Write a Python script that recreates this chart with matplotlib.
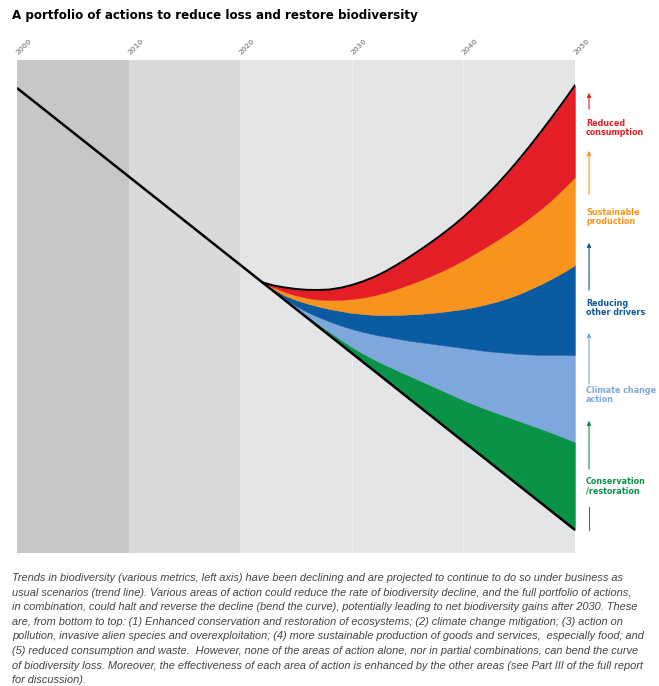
import matplotlib.pyplot as plt
from matplotlib.patches import FancyArrowPatch
from matplotlib.transforms import ScaledTranslation

W, H = 659, 686

years = list(range(2022, 2051))
trend_years = [2000] + years
trend = [94.32, 54.87, 53.08, 51.30, 49.49, 47.71, 45.90, 44.12, 42.33, 40.53, 38.74,
         36.96, 35.16, 33.37, 31.56, 29.78, 27.99, 26.19, 24.40, 22.60, 20.81,
         19.03, 17.22, 15.44, 13.63, 11.84, 10.06, 8.26, 6.47, 4.67]
conservation = [54.87, 53.12, 51.40, 49.70, 48.07, 46.45, 44.83, 43.31, 41.79, 40.47,
                39.25, 38.13, 37.12, 36.11, 35.09, 34.08, 33.06, 32.05, 31.03, 30.12,
                29.21, 28.40, 27.59, 26.77, 25.96, 25.15, 24.34, 23.43, 22.52]
climate = [54.87, 53.23, 51.62, 50.10, 48.88, 47.87, 46.96, 46.15, 45.44, 44.83,
           44.32, 43.91, 43.51, 43.10, 42.80, 42.49, 42.19, 41.89, 41.58, 41.28,
           40.97, 40.77, 40.57, 40.37, 40.26, 40.16, 40.16, 40.16, 40.16]
other_drivers = [54.87, 53.49, 52.23, 51.32, 50.61, 50.00, 49.49, 49.09, 48.68, 48.48,
                 48.28, 48.28, 48.28, 48.38, 48.48, 48.68, 48.88, 49.19, 49.49, 49.90,
                 50.41, 51.01, 51.72, 52.54, 53.55, 54.56, 55.78, 57.00, 58.42]
production = [54.87, 53.85, 52.94, 52.23, 51.72, 51.42, 51.32, 51.35, 51.50, 51.80,
              52.25, 52.85, 53.55, 54.35, 55.20, 56.10, 57.10, 58.20, 59.40, 60.70,
              62.05, 63.45, 64.90, 66.45, 68.10, 69.85, 71.80, 74.00, 76.27]
consumption = [54.87, 54.26, 53.85, 53.55, 53.38, 53.35, 53.45, 53.80, 54.35, 55.10,
               56.00, 57.10, 58.40, 59.80, 61.30, 62.85, 64.50, 66.25, 68.15, 70.20,
               72.40, 74.75, 77.25, 79.90, 82.70, 85.60, 88.60, 91.70, 94.90]

tick_years = [2000, 2010, 2020, 2030, 2040, 2050]
period_edges = [2000, 2010, 2020, 2050]
period_colors = ["#c5c7c9", "#d8dadc", "#e3e5e7"]

band_colors = ["#0a9346", "#7ea8dc", "#0b5ba3", "#f7941d", "#e41e26"]
band_labels = ["Conservation\n/restoration", "Climate change\naction", "Reducing\nother drivers",
               "Sustainable\nproduction", "Reduced\nconsumption"]

title = "A portfolio of actions to reduce loss and restore biodiversity"
caption = [
    "Trends in biodiversity (various metrics, left axis) have been declining and are projected to continue to do so under business as",
    "usual scenarios (trend line). Various areas of action could reduce the rate of biodiversity decline, and the full portfolio of actions,",
    "in combination, could halt and reverse the decline (bend the curve), potentially leading to net biodiversity gains after 2030. These",
    "are, from bottom to top: (1) Enhanced conservation and restoration of ecosystems; (2) climate change mitigation; (3) action on",
    "pollution, invasive alien species and overexploitation; (4) more sustainable production of goods and services,  especially food; and",
    "(5) reduced consumption and waste.  However, none of the areas of action alone, nor in partial combinations, can bend the curve",
    "of biodiversity loss. Moreover, the effectiveness of each area of action is enhanced by the other areas (see Part III of the full report",
    "for discussion).",
]


def fxy(px, py):
    return px / W, 1 - py / H


fig = plt.figure(figsize=(W / 100, H / 100), dpi=100)
ax = fig.add_axes([17 / W, 1 - 553 / H, (575 - 17) / W, (553 - 60) / H])

for i in range(len(period_colors)):
    ax.axvspan(period_edges[i], period_edges[i + 1], color=period_colors[i], lw=0, zorder=0)
for yr in tick_years[3:5]:
    ax.axvline(yr, color="#eceef0", lw=0.8, zorder=0.5)

curves = [trend[1:], conservation, climate, other_drivers, production, consumption]
for i in range(5):
    ax.fill_between(years, curves[i], curves[i + 1], color=band_colors[i], lw=0.3,
                    edgecolor=band_colors[i], zorder=1)

ax.plot(trend_years, trend, color="black", lw=1.8, solid_capstyle="butt", zorder=3)
ax.plot(years, consumption, color="black", lw=1.4, zorder=3)

ax.set_xlim(2000, 2050)
ax.set_ylim(0, 100)
ax.xaxis.tick_top()
ax.set_xticks(tick_years)
ax.set_xticklabels([str(y) for y in tick_years], rotation=45, fontsize=5,
                   color="#9a9a9a", fontweight="bold")
ax.tick_params(axis="x", length=0, pad=3)
shift = ScaledTranslation(5 / 72, 0, fig.dpi_scale_trans)
for lab in ax.get_xticklabels():
    lab.set_transform(lab.get_transform() + shift)
ax.set_yticks([])
for s in ax.spines.values():
    s.set_visible(False)

fig.text(*fxy(12, 15), title, fontsize=8.6, fontweight="bold", va="center", ha="left")

# arrows + labels on the right, bottom to top
arrow_spans = [(472, 418), (387, 330), (293, 240), (197, 148), (112, 90)]
label_y = [486, 395, 308, 217, 128]
for i in range(5):
    y0, y1 = arrow_spans[i]
    fig.add_artist(FancyArrowPatch(fxy(589, y0), fxy(589, y1), transform=fig.transFigure,
                                   arrowstyle="-|>", mutation_scale=6, lw=0.8,
                                   color=band_colors[i]))
    fig.text(*fxy(586, label_y[i]), band_labels[i], fontsize=5.8, fontweight="bold",
             color=band_colors[i], va="center", ha="left", linespacing=1.0)
fig.add_artist(plt.Line2D([589 / W, 589 / W], [1 - 507 / H, 1 - 530 / H],
                          transform=fig.transFigure, lw=0.8, color=band_colors[0]))

for i, line in enumerate(caption):
    fig.text(*fxy(12, 578 + i * 14.6), line, fontsize=7.9, style="italic",
             color="#444444", va="center", ha="left", family="Liberation Sans")

fig.savefig("out.png", dpi=100)
